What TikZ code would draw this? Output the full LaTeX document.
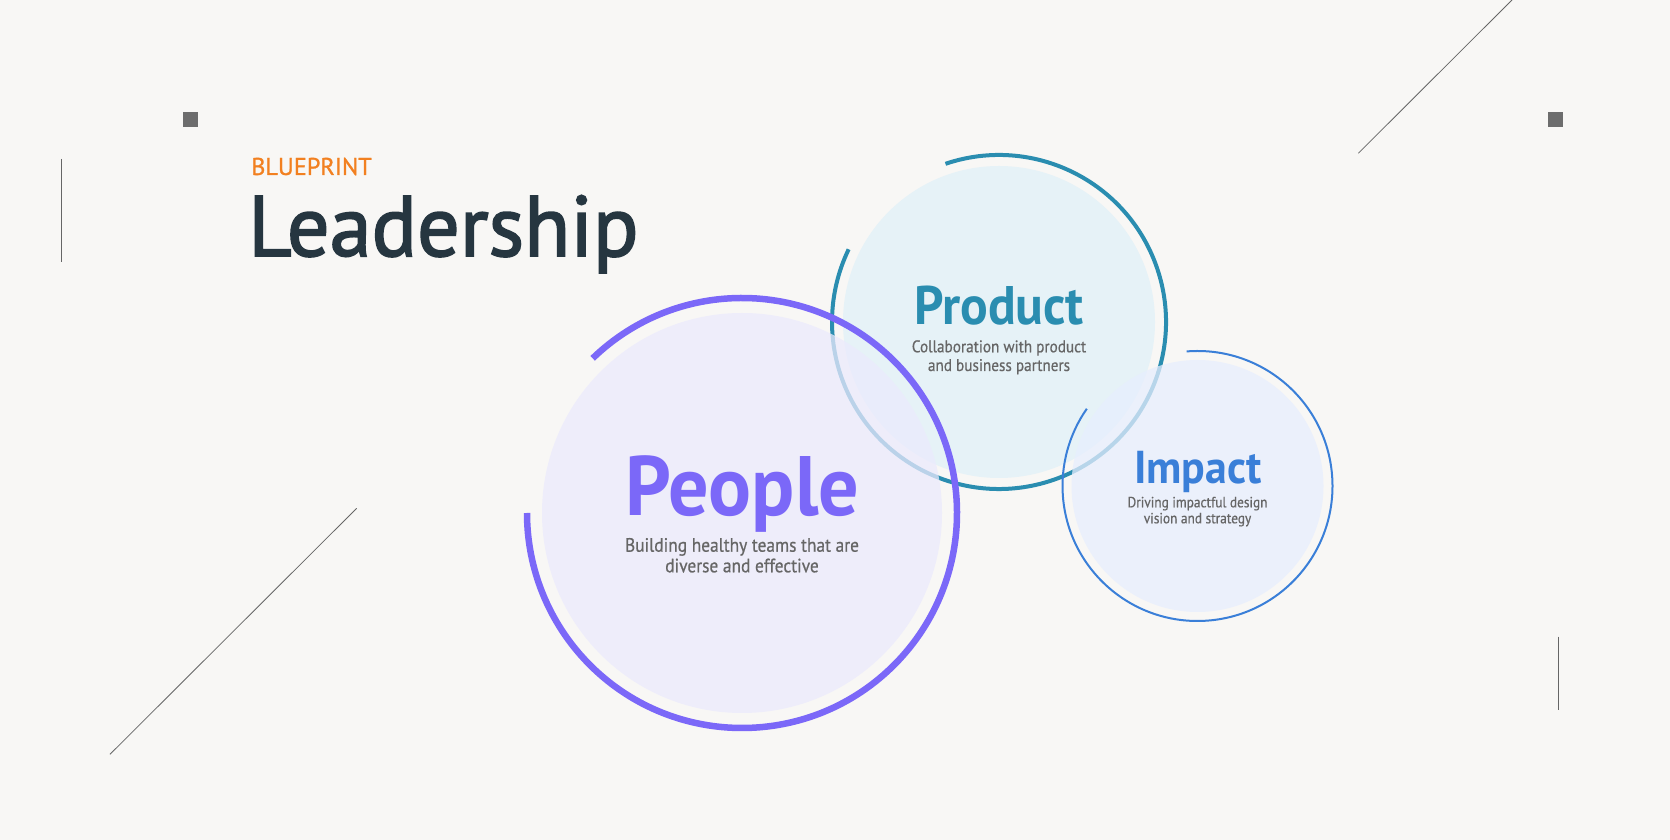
\documentclass[tikz,border=0pt]{standalone}
\usepackage{fontspec}
\setmainfont{PT Sans}
\newfontfamily\bluefont[FakeBold=1]{PT Sans}
\newfontfamily\leadfont[FakeStretch=0.985,FakeBold=2]{PT Sans}
\newfontfamily\circfont[FakeStretch=0.95]{PT Sans}
\newfontfamily\descfont[FakeStretch=0.9,FakeBold=0.6]{PT Sans}
\definecolor{bgcol}{HTML}{F8F7F5}
\definecolor{linecol}{HTML}{666666}
\definecolor{sqcol}{HTML}{6D6D6D}
\definecolor{titlecol}{HTML}{263640}
\definecolor{orangecol}{HTML}{F28020}
\definecolor{desccol}{HTML}{666666}
\definecolor{peoplecol}{HTML}{7B68F8}
\definecolor{peoplefill}{HTML}{EBEAFD}
\definecolor{productcol}{HTML}{2A8DB0}
\definecolor{productfill}{HTML}{E6F2F7}
\definecolor{impactcol}{HTML}{3A7FD8}
\definecolor{impactfill}{HTML}{E7EEFE}

\begin{document}
\begin{tikzpicture}[x=1pt,y=1pt,
    every node/.style={inner sep=0pt},
    deco/.style={draw=linecol,line width=1pt},
    desc/.style={text=desccol,align=center,anchor=base}]
\fill[bgcol] (0,0) rectangle (1670,840);
\useasboundingbox (0,0) rectangle (1670,840);
% frame marks
\foreach \x in {183,1548} {\fill[sqcol] (\x,713) rectangle ++(15,15);}
\coordinate (v1) at (61.3,681); \coordinate (v2) at (61.3,578.3);
\coordinate (v3) at (1558.3,203.3); \coordinate (v4) at (1558.3,130);
\coordinate (d1) at (1358.3,686.7); \coordinate (d2) at (1512,840);
\coordinate (d3) at (110,85.7); \coordinate (d4) at (356.7,331.7);
\draw[deco] (v1) -- (v2);
\draw[deco] (v3) -- (v4);
\draw[deco,line width=0.8pt] (d1) -- (d2);
\draw[deco,line width=0.8pt] (d3) -- (d4);
% heading
\node[anchor=base west,text=orangecol,font=\bluefont\fontsize{24.3}{28}\selectfont] (blue) at (251,665) {BLUEPRINT};
\node[anchor=base west,text=titlecol,font=\leadfont\fontsize{85.7}{90}\selectfont] (lead) at (248,584) {Leadership};
% circles
\coordinate (cprod) at (999,518);
\coordinate (cpeop) at (742,327);
\coordinate (cimp) at (1197.5,354);
\fill[productfill] (cprod) circle (156);
\draw[productcol,line width=4pt] (cprod) ++(108.7:167) arc[start angle=108.7,end angle=-205.8,radius=167];
\fill[peoplefill,opacity=0.75] (cpeop) circle (200);
\draw[peoplecol,line width=6.5pt] (cpeop) ++(134:215) arc[start angle=134,end angle=-180,radius=215];
\fill[impactfill,opacity=0.75] (cimp) circle (126);
\draw[impactcol,line width=2pt] (cimp) ++(94.6:135) arc[start angle=94.6,end angle=-214.9,radius=135];
% labels
\node[anchor=base,text=peoplecol,font=\circfont\fontsize{84.3}{90}\selectfont\bfseries] (peop) at (742.5,324) {People};
\node[desc,font=\descfont\fontsize{19.3}{20.6}\selectfont] (peopd) at (742,267.7) {Building healthy teams that are\\diverse and effective};
\node[anchor=base,text=productcol,font=\circfont\fontsize{54.3}{60}\selectfont\bfseries] (prod) at (999,515) {Product};
\node[desc,font=\descfont\fontsize{16.9}{18.7}\selectfont] (prodd) at (999,469) {Collaboration with product\\and business partners};
\node[anchor=base,text=impactcol,font=\circfont\fontsize{46.1}{50}\selectfont\bfseries] (imp) at (1197.8,356) {Impact};
\node[desc,font=\descfont\fontsize{14.8}{16}\selectfont] (impd) at (1197.5,316.7) {Driving impactful design\\vision and strategy};
\end{tikzpicture}
\end{document}
